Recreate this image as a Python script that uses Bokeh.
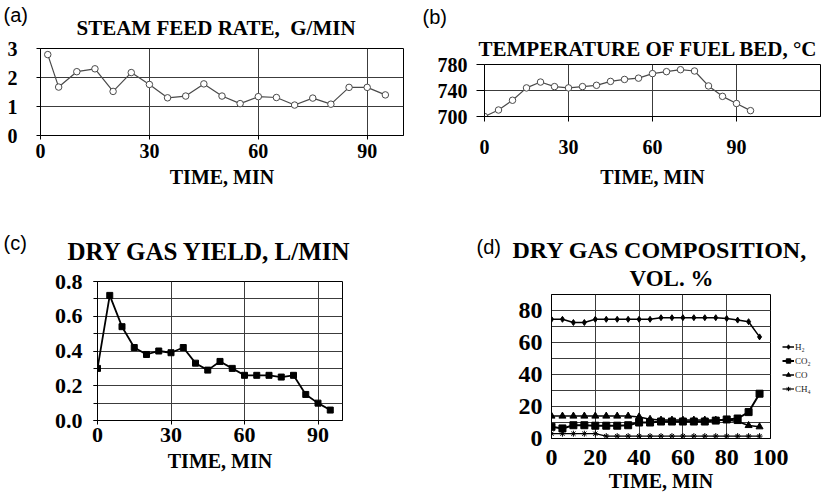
from bokeh.plotting import figure
from bokeh.layouts import column, row
from bokeh.models import (Title, Range1d, FixedTicker, SingleIntervalTicker,
                          PrintfTickFormatter, Legend, LegendItem)
from bokeh.embed import file_html
from bokeh.resources import INLINE

SERIF = "Liberation Serif"
SANS = "Liberation Sans"

# ---------------- data ----------------
# (a) steam feed rate, g/min
steam_time = [2, 5, 10, 15, 20, 25, 30, 35, 40, 45, 50, 55, 60, 65, 70, 75, 80, 85, 90, 95]
steam_rate = [2.79, 1.67, 2.20, 2.30, 1.52, 2.17, 1.76, 1.30, 1.36, 1.78,
              1.36, 1.10, 1.34, 1.31, 1.05, 1.29, 1.08, 1.66, 1.66, 1.40]

# (b) temperature of fuel bed, C
bed_time = [0, 5, 10, 15, 20, 25, 30, 35, 40, 45, 50, 55, 60, 65, 70, 75, 80, 85, 90, 95]
bed_temp = [700, 710, 725, 744, 753, 746, 744, 746, 748, 754,
            757, 759, 766, 769, 772, 770, 747, 731, 720, 709]

# (c) dry gas yield, L/min
yield_time = [0, 5, 10, 15, 20, 25, 30, 35, 40, 45, 50, 55, 60, 65, 70, 75, 80, 85, 90, 95]
yield_lmin = [0.30, 0.72, 0.54, 0.42, 0.38, 0.40, 0.39, 0.42, 0.33, 0.29,
              0.34, 0.30, 0.26, 0.26, 0.26, 0.25, 0.26, 0.15, 0.10, 0.06]

# (d) dry gas composition, vol. %
comp_time = [0, 5, 10, 15, 20, 25, 30, 35, 40, 45, 50, 55, 60, 65, 70, 75, 80, 85, 90, 95]
h2 = [74.5, 74.5, 72.5, 72.5, 74.5, 74.5, 74.5, 74.5, 74.5, 74.5,
      75.5, 75.5, 75.5, 75.5, 75.5, 75.5, 75.0, 74.0, 73.0, 63.5]
co2 = [7.3, 6.3, 8.3, 8.3, 8.0, 8.0, 8.0, 8.3, 10.0, 10.0,
       10.6, 10.6, 10.6, 10.6, 10.6, 11.2, 11.9, 12.5, 16.5, 28.0]
co = [14.0, 14.0, 14.0, 14.0, 14.0, 14.0, 14.0, 14.0, 13.5, 12.0,
      11.5, 11.5, 11.5, 11.5, 11.5, 11.5, 11.5, 10.6, 8.1, 7.3]
ch4 = [3.0, 3.0, 3.0, 3.0, 3.0, 1.5, 1.5, 1.5, 1.5, 1.5,
       1.5, 1.5, 1.5, 1.5, 1.5, 1.5, 1.5, 1.5, 1.5, 1.5]
gas_series = [h2, co2, co, ch4]
gas_labels = ["H\u2082", "CO\u2082", "CO", "CH\u2084"]
gas_markers = ["diamond", "square", "triangle", "asterisk"]

titles = ["STEAM FEED RATE,\u00a0 G/MIN", "TEMPERATURE OF FUEL BED, \u00b0C",
          "DRY GAS YIELD, L/MIN", "DRY GAS COMPOSITION,", "VOL. %"]
panel_tags = ["(a)", "(b)", "(c)", "(d)"]
x_title = "TIME, MIN"

GRID = "#3c3c3c"


def make_fig(w, h, bl, br, bt, bb, xr, yr):
    p = figure(width=w, height=h, min_border_left=bl, min_border_right=br,
               min_border_top=bt, min_border_bottom=bb,
               x_range=Range1d(*xr), y_range=Range1d(*yr),
               toolbar_location=None, output_backend="svg",
               background_fill_color="white", border_fill_color="white")
    p.outline_line_color = "black"
    p.outline_line_width = 1
    for ax in (p.xaxis, p.yaxis):
        ax.axis_line_color = "black"
        ax.major_tick_line_color = "black"
        ax.major_tick_in = 0
        ax.minor_tick_line_color = None
        ax.major_label_text_font = SERIF
        ax.major_label_text_font_style = "bold"
        ax.major_label_text_color = "black"
        ax.axis_label_text_font = SERIF
        ax.axis_label_text_font_style = "bold"
        ax.axis_label_text_color = "black"
        ax.axis_label_text_font_size = "20px"
    p.xgrid.grid_line_color = GRID
    p.ygrid.grid_line_color = GRID
    return p


def add_title(p, text, size, offset, standoff, font=SERIF, style="bold"):
    p.add_layout(Title(text=text, align="left", offset=offset, standoff=standoff,
                       vertical_align="bottom", text_font=font,
                       text_font_style=style, text_font_size=size,
                       text_color="black"), "above")


def gas_renderers(p, visible=True):
    rs = []
    widths = [1.5, 2.0, 1.5, 1.2]
    sizes = [6, 7, 7, 6]
    for ys, mk, lw, sz in zip(gas_series, gas_markers, widths, sizes):
        ln = p.line(comp_time, ys, line_color="black", line_width=lw, visible=visible)
        sc = p.scatter(comp_time, ys, marker=mk, size=sz, fill_color="black",
                       line_color="black", visible=visible)
        rs.append([ln, sc])
    return rs


# ---------------- (a) ----------------
pa = make_fig(414, 218, 40, 11, 48, 83, (0, 100), (0, 3))
pa.xaxis.ticker = SingleIntervalTicker(interval=30, num_minor_ticks=0)
pa.yaxis.ticker = SingleIntervalTicker(interval=1, num_minor_ticks=0)
for ax in (pa.xaxis, pa.yaxis):
    ax.major_label_text_font_size = "20px"
    ax.major_tick_out = 4
pa.xaxis.major_label_standoff = 4
pa.yaxis.major_label_standoff = 19
pa.xaxis.axis_label = x_title
pa.xaxis.axis_label_standoff = 5
pa.line(steam_time, steam_rate, line_color="#4a4a4a", line_width=1.2)
pa.scatter(steam_time, steam_rate, marker="circle", size=6.5, fill_color="white",
           line_color="#4a4a4a", line_width=1)
add_title(pa, titles[0], "21px", 36, 17)
add_title(pa, panel_tags[0], "20px", -37, -40, font=SANS, style="normal")

# ---------------- (b) ----------------
pb = make_fig(414, 218, 70, 8, 64, 102, (0, 120), (700, 780))
pb.xaxis.ticker = FixedTicker(ticks=[0, 30, 60, 90])
pb.yaxis.ticker = FixedTicker(ticks=[700, 740, 780])
for ax in (pb.xaxis, pb.yaxis):
    ax.major_label_text_font_size = "20px"
pb.xaxis.major_tick_out = 5
pb.yaxis.major_tick_out = 8
pb.xaxis.major_label_standoff = 18
pb.yaxis.major_label_standoff = 9
pb.xaxis.axis_label = x_title
pb.xaxis.axis_label_standoff = 9
pb.line(bed_time, bed_temp, line_color="#4a4a4a", line_width=1.2)
pb.scatter(bed_time, bed_temp, marker="circle", size=6.5, fill_color="white",
           line_color="#4a4a4a", line_width=1)
add_title(pb, titles[1], "21px", -6, 7)
add_title(pb, panel_tags[1], "20px", -62, 7, font=SANS, style="normal")

# ---------------- (c) ----------------
pc = make_fig(414, 278, 97, 72, 63, 76, (0, 100), (0, 0.8))
pc.xaxis.ticker = SingleIntervalTicker(interval=30, num_minor_ticks=0)
pc.yaxis.ticker = SingleIntervalTicker(interval=0.2, num_minor_ticks=2)
pc.yaxis.formatter = PrintfTickFormatter(format="%.1f")
for ax in (pc.xaxis, pc.yaxis):
    ax.major_label_text_font_size = "22px"
    ax.major_tick_out = 4
pc.yaxis.minor_tick_line_color = "black"
pc.yaxis.minor_tick_in = 0
pc.yaxis.minor_tick_out = 4
pc.ygrid.minor_grid_line_color = GRID
pc.xaxis.major_label_standoff = 3
pc.yaxis.major_label_standoff = 11
pc.xaxis.axis_label = x_title
pc.xaxis.axis_label_standoff = 5
pc.line(yield_time, yield_lmin, line_color="black", line_width=1.8)
pc.scatter(yield_time, yield_lmin, marker="square", size=6, fill_color="black",
           line_color="black")
add_title(pc, titles[2], "25px", -30, 33)
add_title(pc, panel_tags[2], "20px", -94, -68, font=SANS, style="normal")

# ---------------- (d) ----------------
pd_ = make_fig(414, 278, 137, 58, 76, 58, (0, 100), (0, 90))
pd_.xaxis.ticker = SingleIntervalTicker(interval=20, num_minor_ticks=0)
pd_.yaxis.ticker = SingleIntervalTicker(interval=20, num_minor_ticks=2)
for ax in (pd_.xaxis, pd_.yaxis):
    ax.major_label_text_font_size = "24px"
    ax.major_tick_out = 0
pd_.ygrid.minor_grid_line_color = GRID
pd_.xaxis.major_label_standoff = 11
pd_.yaxis.major_label_standoff = 5
pd_.xaxis.axis_label = x_title
pd_.xaxis.axis_label_standoff = 2
gas_renderers(pd_)
add_title(pd_, titles[4], "23px", 78, 8)
add_title(pd_, titles[3], "24px", -39, -6)
add_title(pd_, panel_tags[3], "20px", -75, -40, font=SANS, style="normal")

# ---------------- legend strip for (d), laid over the right border of (d) ----
pl = figure(width=46, height=278, min_border_left=0, min_border_right=0,
            min_border_top=0, min_border_bottom=0,
            x_range=Range1d(0, 100), y_range=Range1d(0, 90),
            x_axis_location=None, y_axis_location=None,
            toolbar_location=None, output_backend="svg",
            background_fill_alpha=0, border_fill_alpha=0)
pl.outline_line_color = None
pl.grid.visible = False
leg_rs = gas_renderers(pl, visible=False)
legend = Legend(items=[LegendItem(label=lab, renderers=rs)
                       for lab, rs in zip(gas_labels, leg_rs)],
                location=(0, 102), label_text_font=SERIF, label_text_font_size="9px",
                label_text_color="#222222", glyph_width=12, glyph_height=11,
                label_height=11, spacing=3, padding=0, margin=0, label_standoff=1,
                border_line_color=None, background_fill_alpha=0)
pl.add_layout(legend)

layout = column(row(column(pa), column(pb)),
                row(column(pc), column(pd_), column(pl, margin=(0, 0, 0, -46))))
open("out.html", "w").write(file_html(layout, INLINE))
